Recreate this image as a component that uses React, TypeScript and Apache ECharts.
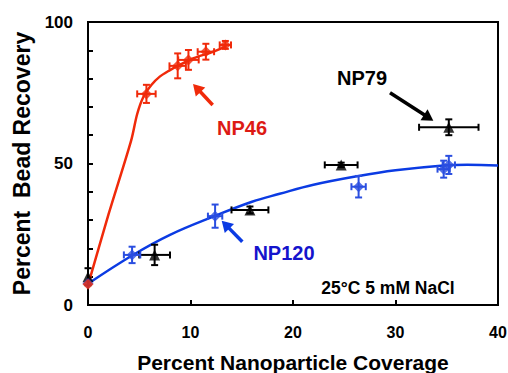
import React, { useEffect, useRef } from "react";
import * as echarts from "echarts";

// [x, y, xErr, yErr]
const np46Points: number[][] = [
  [0, 7.3, 0, 0],
  [5.7, 74.6, 0.9, 3.2],
  [8.75, 84.5, 0.8, 4.4],
  [9.8, 86.6, 1.0, 3.5],
  [11.5, 89.5, 0.8, 2.8],
  [13.4, 91.9, 0.55, 1.4],
];
const np79Points: number[][] = [
  [0, 10, 0, 3],
  [6.5, 17.7, 1.5, 3.6],
  [15.8, 33.6, 1.8, 1.2],
  [24.7, 49.5, 1.6, 0.8],
  [35.2, 62.8, 2.9, 2.8],
];
const np120Points: number[][] = [
  [0, 7.6, 0, 0],
  [4.3, 17.7, 0.8, 2.9],
  [12.4, 31.4, 0.7, 4.1],
  [26.4, 41.8, 0.7, 3.8],
  [34.7, 48.0, 0.6, 3.0],
  [35.2, 49.5, 0.6, 3.2],
];
const np46Fit: number[][] = [
  [0, 7], [2, 32], [4.2, 58], [4.8, 67.5], [5.4, 73.5], [6.2, 77.8], [7, 80.7],
  [8, 83], [8.75, 84.5], [10.3, 87.2], [12.2, 89.5], [13.5, 91.5],
];
const np120Fit: number[][] = [
  [0, 7.5], [4.3, 17.5], [8, 24.8], [12.4, 31.5], [16, 36.5], [18.7, 39.3],
  [22, 42.5], [26.4, 45.6], [30, 47.6], [34.7, 49.3], [37, 49.6], [40, 49.3],
];
const xTicks = [0, 10, 20, 30, 40];
const yLabelTicks = [0, 50, 100];

const RED_LINE = "#f02a0a";
const RED_TEXT = "#dd1a14";
const BLUE_LINE = "#0b3be3";
const BLUE_MARK = "#2a4ee0";
const BLUE_TEXT = "#1414cc";
const BLACK = "#000000";
const FONT = "'Liberation Sans', Arial, Helvetica, sans-serif";

function errorSeries(data: number[][], color: string, z: number) {
  return {
    type: "custom",
    data,
    z,
    encode: { x: 0, y: 1 },
    renderItem: (_p: any, api: any) => {
      const x = api.value(0), y = api.value(1), xe = api.value(2), ye = api.value(3);
      const cap = 3.5;
      const style = { stroke: color, lineWidth: 2 };
      const children: any[] = [];
      if (xe > 0) {
        const a = api.coord([x - xe, y]);
        const b = api.coord([x + xe, y]);
        children.push({ type: "line", shape: { x1: a[0], y1: a[1], x2: b[0], y2: b[1] }, style });
        children.push({ type: "line", shape: { x1: a[0], y1: a[1] - cap, x2: a[0], y2: a[1] + cap }, style });
        children.push({ type: "line", shape: { x1: b[0], y1: b[1] - cap, x2: b[0], y2: b[1] + cap }, style });
      }
      if (ye > 0) {
        const a = api.coord([x, y - ye]);
        const b = api.coord([x, y + ye]);
        children.push({ type: "line", shape: { x1: a[0], y1: a[1], x2: b[0], y2: b[1] }, style });
        children.push({ type: "line", shape: { x1: a[0] - cap, y1: a[1], x2: a[0] + cap, y2: a[1] }, style });
        children.push({ type: "line", shape: { x1: b[0] - cap, y1: b[1], x2: b[0] + cap, y2: b[1] }, style });
      }
      return { type: "group", children };
    },
  };
}

function arrow(tx: number, ty: number, hx: number, hy: number, color: string) {
  const dx = hx - tx, dy = hy - ty;
  const len = Math.sqrt(dx * dx + dy * dy);
  const ux = dx / len, uy = dy / len;
  const hl = 11, hw = 6.5;
  const bx = hx - ux * hl, by = hy - uy * hl;
  const px = -uy, py = ux;
  return [
    { type: "line", shape: { x1: tx, y1: ty, x2: bx + ux * 2, y2: by + uy * 2 }, style: { stroke: color, lineWidth: 3.5 }, z: 100 },
    {
      type: "polygon",
      shape: { points: [[hx, hy], [bx + px * hw, by + py * hw], [bx - px * hw, by - py * hw]] },
      style: { fill: color },
      z: 100,
    },
  ];
}

function label(text: string, x: number, y: number, color: string, size: number) {
  return {
    type: "text",
    x,
    y,
    z: 100,
    style: { text, fill: color, font: `bold ${size}px ${FONT}`, align: "center", verticalAlign: "middle" },
  };
}

export default function App() {
  const ref = useRef<HTMLDivElement>(null);
  useEffect(() => {
    if (!ref.current) return;
    document.body.style.margin = "0";
    document.body.style.overflow = "hidden";
    document.documentElement.style.overflow = "hidden";
    const chart = echarts.init(ref.current, null, { renderer: "svg", width: 508, height: 373 });
    chart.setOption({
      animation: false,
      backgroundColor: "#ffffff",
      grid: {
        left: 88, right: 10, top: 22, bottom: 68,
        show: true, borderColor: BLACK, borderWidth: 2,
        containLabel: false, outerBoundsMode: "none",
      },
      xAxis: {
        type: "value",
        min: 0,
        max: 40,
        interval: 10,
        name: "Percent Nanoparticle Coverage",
        nameLocation: "middle",
        nameGap: 47,
        nameTextStyle: { fontFamily: FONT, fontWeight: "bold", fontSize: 21, color: BLACK },
        axisLine: { lineStyle: { color: BLACK, width: 2 } },
        axisTick: { inside: true, length: 5, lineStyle: { color: BLACK, width: 2 } },
        axisLabel: {
          margin: 19,
          fontFamily: FONT,
          fontWeight: "bold",
          fontSize: 16,
          color: BLACK,
          formatter: (v: number) => (xTicks.includes(v) ? String(v) : ""),
        },
        splitLine: { show: false },
      },
      yAxis: {
        type: "value",
        min: 0,
        max: 100,
        interval: 10,
        name: "Percent  Bead Recovery",
        nameLocation: "middle",
        nameGap: 54,
        nameTextStyle: { fontFamily: FONT, fontWeight: "bold", fontSize: 23, color: BLACK },
        axisLine: { lineStyle: { color: BLACK, width: 2 } },
        axisTick: { inside: true, length: 5, lineStyle: { color: BLACK, width: 2 } },
        axisLabel: {
          margin: 15,
          fontFamily: FONT,
          fontWeight: "bold",
          fontSize: 17,
          color: BLACK,
          formatter: (v: number) => (yLabelTicks.includes(v) ? String(v) : ""),
        },
        splitLine: { show: false },
      },
      series: [
        { type: "line", data: np120Fit, smooth: 0.4, showSymbol: false, lineStyle: { color: BLUE_LINE, width: 2.5 }, z: 2 },
        { type: "line", data: np46Fit, smooth: 0.3, showSymbol: false, lineStyle: { color: RED_LINE, width: 2.5 }, z: 2 },
        errorSeries(np79Points, BLACK, 3),
        errorSeries(np120Points, BLUE_MARK, 3),
        errorSeries(np46Points, RED_LINE, 3),
        { type: "scatter", data: np79Points.map((p) => [p[0], p[1]]), symbol: "triangle", symbolSize: 11, itemStyle: { color: BLACK }, z: 4 },
        { type: "scatter", data: np120Points.map((p) => [p[0], p[1]]), symbol: "diamond", symbolSize: 11, itemStyle: { color: BLUE_MARK }, z: 4 },
        { type: "scatter", data: np46Points.map((p) => [p[0], p[1]]), symbol: "diamond", symbolSize: 11, itemStyle: { color: RED_LINE }, z: 4 },
      ],
      graphic: [
        ...arrow(212.7, 105, 193, 84, RED_LINE),
        ...arrow(390, 92.7, 433.3, 120.7, BLACK),
        ...arrow(242.3, 241.7, 221.7, 220.7, BLUE_LINE),
        label("NP46", 242, 128, RED_TEXT, 20),
        label("NP79", 362, 78, BLACK, 20),
        label("NP120", 284, 253, BLUE_TEXT, 20),
        label("25°C 5 mM NaCl", 388, 288, BLACK, 17.5),
      ],
    });
    return () => chart.dispose();
  }, []);
  return <div ref={ref} style={{ width: 508, height: 373, position: "fixed", left: 0, top: 0 }} />;
}
